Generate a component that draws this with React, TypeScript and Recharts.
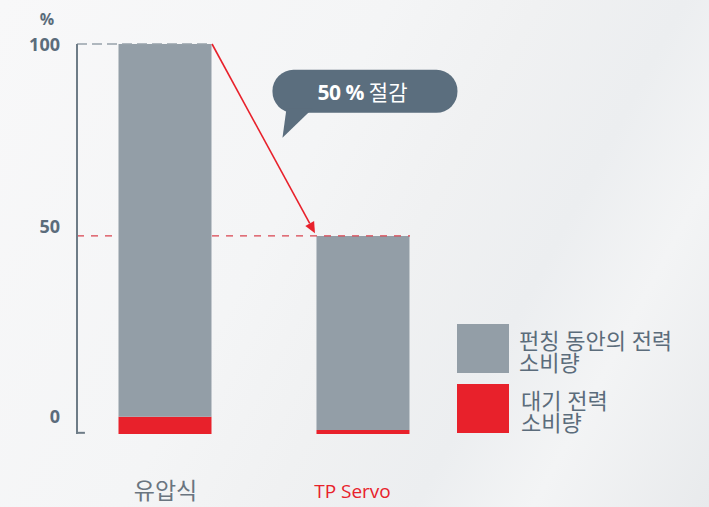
import { BarChart, Bar, XAxis, YAxis, ReferenceLine, ReferenceDot } from "recharts";

// categories and values (percent of hydraulic press consumption)
const categories = ["유압식", "TP Servo"];
const categoryX = [1, 2];
const standby = [4.4, 1.0];
const punching = [95.6, 49.8];
const yTicks = [0, 50, 100];

const seriesNames = ["펀칭 동안의 전력\n소비량", "대기 전력\n소비량"];
const savingLabel = ["50 %", "절감"];

const GRAY = "#939ea7";
const RED = "#e8212b";
const AXIS = "#6e7c87";
const TEXT = "#5b6c7b";
const FONT = "'Open Sans', 'Noto Sans CJK KR', sans-serif";

const data = categories.map((name, i) => ({
  name,
  x: categoryX[i],
  standby: standby[i],
  punching: punching[i],
  total: standby[i] + punching[i],
}));

const X_MIN = 0.553;
const X_MAX = 2.336;
const HALF_BAR = 0.235;

const YTick = (props: any) => {
  const { x, y, payload } = props;
  const shift: Record<number, number> = { 0: -18, 50: -13, 100: 0 };
  return (
    <text
      x={x}
      y={y + (shift[payload.value] ?? 0)}
      textAnchor="end"
      dominantBaseline="central"
      fill={TEXT}
      fontFamily={FONT}
      fontWeight={700}
      fontSize={18}
    >
      {payload.value}
    </text>
  );
};

const XTick = (props: any) => {
  const { x, y, index } = props;
  const first = index === 0;
  return (
    <text
      x={first ? x : x - 11}
      y={y + (first ? 48 : 49)}
      textAnchor="middle"
      dominantBaseline="central"
      fill={first ? "#6a7580" : RED}
      fontFamily={FONT}
      fontSize={first ? 23 : 19}
    >
      {categories[index]}
    </text>
  );
};

const Arrow = (props: any) => {
  const { x1, y1, x2, y2 } = props;
  const ang = Math.atan2(y2 - y1, x2 - x1);
  const len = 11;
  const w = 5;
  const bx = x2 - len * Math.cos(ang);
  const by = y2 - len * Math.sin(ang);
  const px = -Math.sin(ang) * w;
  const py = Math.cos(ang) * w;
  return (
    <g>
      <line x1={x1} y1={y1} x2={bx} y2={by} stroke={RED} strokeWidth={1.6} />
      <polygon
        points={`${x2},${y2} ${bx + px},${by + py} ${bx - px},${by - py}`}
        fill={RED}
      />
    </g>
  );
};

const Bubble = (props: any) => {
  const { cx, cy } = props;
  const w = 185;
  const h = 43;
  const left = cx - 92;
  const top = cy - 21;
  return (
    <g>
      <rect x={left} y={top} width={w} height={h} rx={21} ry={21} fill="#5b6e7e" />
      <polygon
        points={`${cx - 78},${cy + 18} ${cx - 82},${cy + 47} ${cx - 52},${cy + 18}`}
        fill="#5b6e7e"
      />
      <text
        x={cx - 2}
        y={cy + 1}
        textAnchor="middle"
        dominantBaseline="central"
        fill="#ffffff"
        fontFamily={FONT}
        fontSize={21}
      >
        <tspan fontWeight={700} letterSpacing={-0.5}>{savingLabel[0]}</tspan>
        <tspan dx={5}>{savingLabel[1]}</tspan>
      </text>
    </g>
  );
};

const LegendBox = () => {
  const items = [
    { name: seriesNames[0], color: GRAY },
    { name: seriesNames[1], color: RED },
  ];
  return (
    <div style={{ position: "absolute", left: 457, top: 324, width: 250, fontFamily: FONT }}>
      {items.map((it, i) => (
        <div key={i} style={{ display: "flex", alignItems: "flex-start", height: i === 0 ? 60 : 50 }}>
          <div style={{ width: 52, height: 49, background: it.color, flexShrink: 0 }} />
          <div
            style={{
              marginLeft: 10,
              marginTop: 5,
              fontSize: 22,
              lineHeight: "22px",
              color: TEXT,
              whiteSpace: "pre",
              textAlign: "left",
              paddingLeft: i === 1 ? 2 : 0,
            }}
          >
            {it.name}
          </div>
        </div>
      ))}
    </div>
  );
};

export default function App() {
  const tp = data[1];
  return (
    <div
      style={{
        position: "absolute",
        left: 0,
        top: 0,
        width: 709,
        height: 507,
        background:
          "linear-gradient(118deg, #f8f8f9 0%, #f4f5f6 40%, #f0f1f2 55%, #eceef0 70%, #f3f4f5 82%, #e8eaec 100%)",
      }}
    >
      <BarChart
        width={709}
        height={507}
        data={data}
        margin={{ top: 44, right: 279, bottom: 0, left: 0 }}
      >
        <XAxis
          dataKey="x"
          type="number"
          domain={[X_MIN, X_MAX]}
          ticks={categoryX}
          allowDataOverflow
          axisLine={false}
          tickLine={false}
          height={73}
          tick={<XTick />}
        />
        <YAxis
          type="number"
          domain={[0, 100]}
          ticks={yTicks}
          width={77}
          axisLine={{ stroke: AXIS, strokeWidth: 2 }}
          tickLine={false}
          tickSize={0}
          tickMargin={17}
          tick={<YTick />}
          label={{
            content: () => (
              <text
                x={47}
                y={19}
                textAnchor="middle"
                dominantBaseline="central"
                fill={TEXT}
                fontFamily={FONT}
                fontWeight={700}
                fontSize={16}
              >
                %
              </text>
            ),
          }}
        />
        <Bar dataKey="standby" stackId="a" fill={RED} barSize={93} isAnimationActive={false} />
        <Bar dataKey="punching" stackId="a" fill={GRAY} barSize={93} isAnimationActive={false} />
        <ReferenceLine
          segment={[
            { x: X_MIN, y: tp.total },
            { x: categoryX[0] - HALF_BAR, y: tp.total },
          ]}
          stroke="#d9434f"
          strokeDasharray="7 7"
          strokeWidth={1.2}
        />
        <ReferenceLine
          segment={[
            { x: categoryX[0] + HALF_BAR, y: tp.total },
            { x: categoryX[1] + HALF_BAR, y: tp.total },
          ]}
          stroke="#d9434f"
          strokeDasharray="7 7"
          strokeWidth={1.2}
        />
        <ReferenceLine
          segment={[
            { x: X_MIN, y: 100 },
            { x: categoryX[0] + HALF_BAR, y: 100 },
          ]}
          stroke="#98a2ab"
          strokeDasharray="10 5"
          strokeWidth={1.5}
        />
        <ReferenceLine
          segment={[
            { x: X_MIN, y: 0.3 },
            { x: X_MIN + 0.04, y: 0.3 },
          ]}
          stroke={AXIS}
          strokeWidth={2}
        />
        <ReferenceLine
          segment={[
            { x: categoryX[0] + HALF_BAR, y: 100 },
            { x: 1.755, y: 51.5 },
          ]}
          shape={(p: any) => <Arrow {...p} />}
        />
        <ReferenceDot
          x={2.005}
          y={88}
          r={0}
          ifOverflow="visible"
          shape={(p: any) => <Bubble {...p} />}
        />
      </BarChart>
      <LegendBox />
    </div>
  );
}
